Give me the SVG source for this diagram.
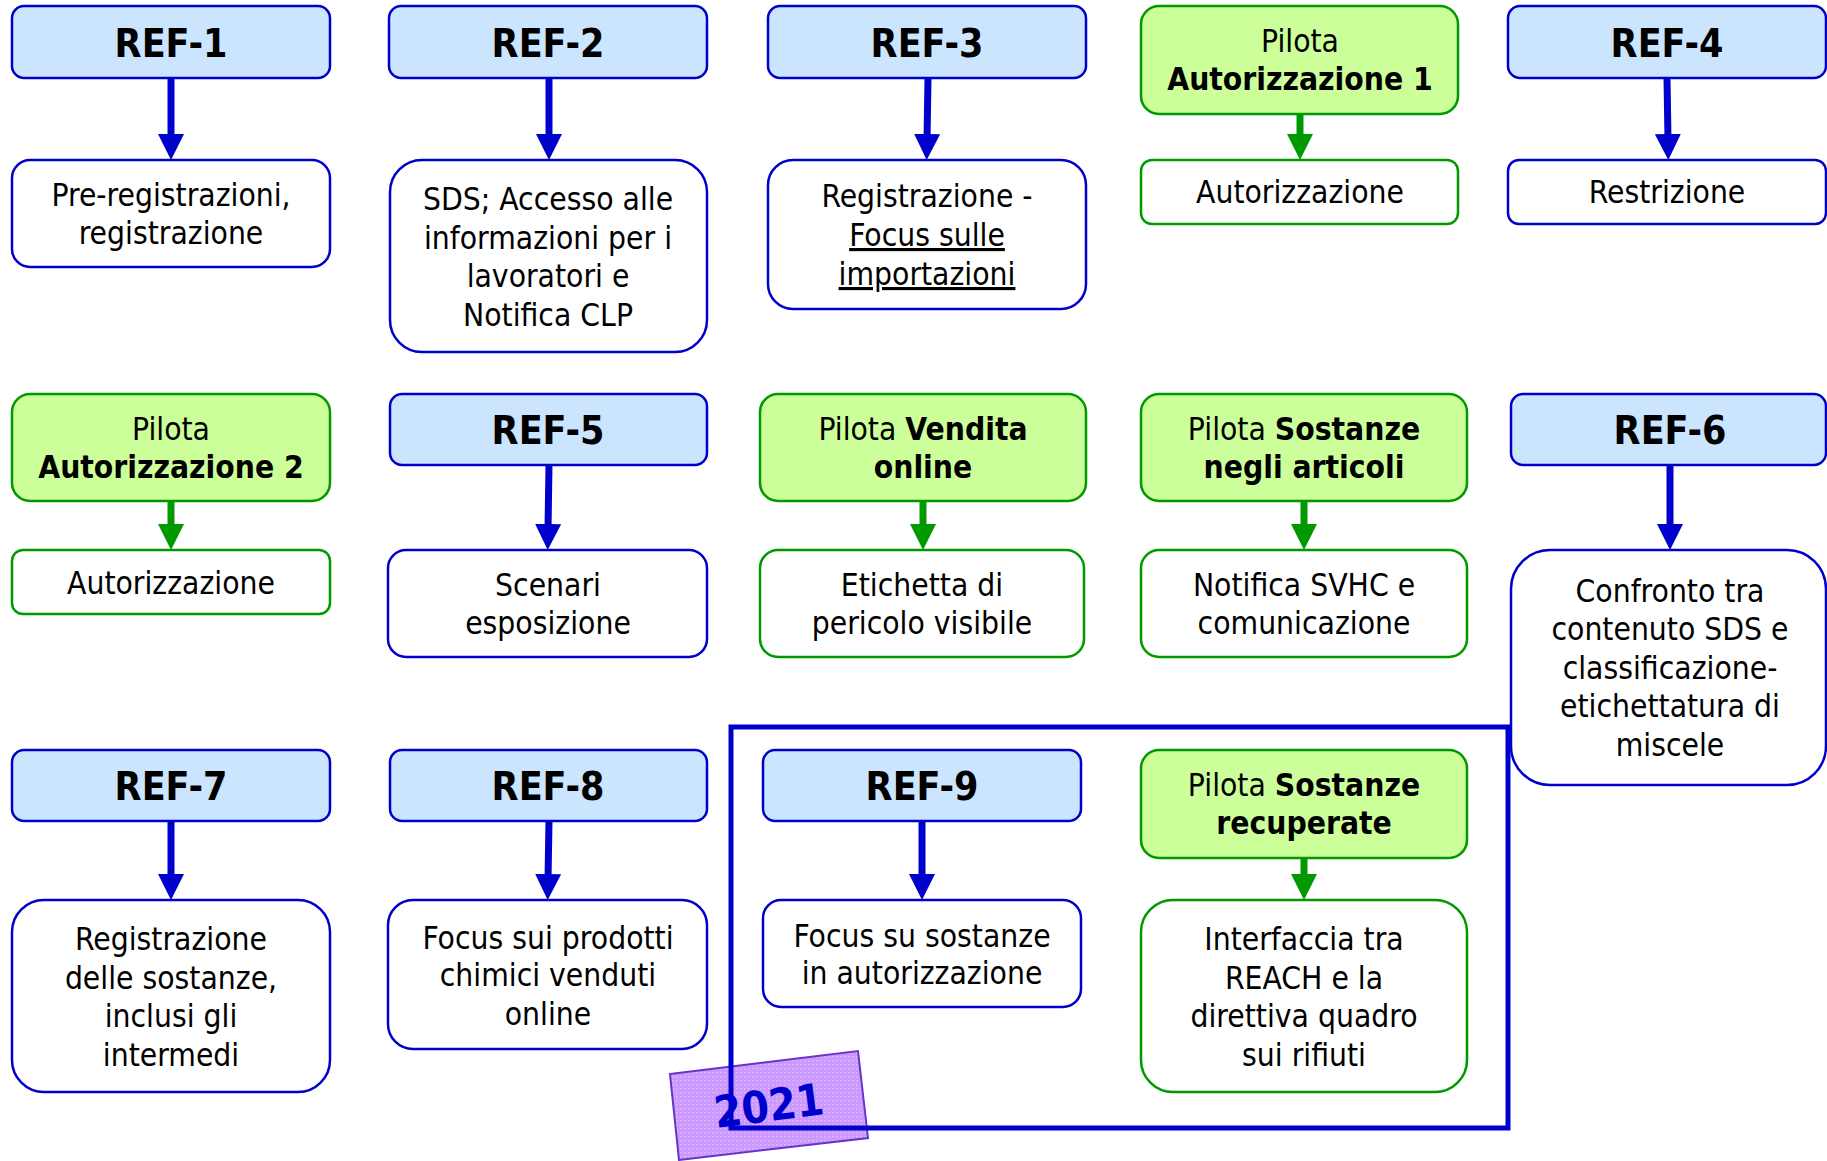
<svg xmlns="http://www.w3.org/2000/svg" width="1827" height="1161" viewBox="0 0 1827 1161">
<defs>
<style>
.hb{fill:#cce5ff;stroke:#0000cc;stroke-width:2.5}
.hg{fill:#ccff99;stroke:#009900;stroke-width:2.5}
.cb{fill:#ffffff;stroke:#0000cc;stroke-width:2.5}
.cg{fill:#ffffff;stroke:#009900;stroke-width:2.5}
text{font-family:"DejaVu Sans Condensed","DejaVu Sans",sans-serif;text-anchor:middle;fill:#000}
.ref{font-size:39px;font-weight:bold}
.t{font-size:31.5px}
.b{font-weight:bold}
.u{text-decoration:underline}
.ab{stroke:#0000cc;stroke-width:7;fill:none;marker-end:url(#mb)}
.ag{stroke:#009900;stroke-width:7;fill:none;marker-end:url(#mg)}
</style>
<marker id="mb" markerUnits="userSpaceOnUse" markerWidth="26" markerHeight="26" refX="6" refY="13" orient="auto">
<path d="M0,0 L26,13 L0,26 z" fill="#0000cc"/>
</marker>
<marker id="mg" markerUnits="userSpaceOnUse" markerWidth="26" markerHeight="26" refX="6" refY="13" orient="auto">
<path d="M0,0 L26,13 L0,26 z" fill="#009900"/>
</marker>
<pattern id="dots" width="4" height="4" patternUnits="userSpaceOnUse">
<rect width="4" height="4" fill="#cc99ff"/>
<rect x="0" y="0" width="1.5" height="1.5" fill="#ddbbff"/>
</pattern>
</defs>
<rect width="1827" height="1161" fill="#ffffff"/>

<g id="connectors">
<line class="ab" x1="171" y1="78" x2="171" y2="140"/>
<line class="ab" x1="549" y1="78" x2="549" y2="140"/>
<line class="ab" x1="928" y1="78" x2="927" y2="140"/>
<line class="ag" x1="1300" y1="114" x2="1300" y2="140"/>
<line class="ab" x1="1667" y1="78" x2="1668" y2="140"/>
<line class="ag" x1="171" y1="501" x2="171" y2="530"/>
<line class="ab" x1="549" y1="465" x2="548" y2="530"/>
<line class="ag" x1="923" y1="501" x2="923" y2="530"/>
<line class="ag" x1="1304" y1="501" x2="1304" y2="530"/>
<line class="ab" x1="1670" y1="465" x2="1670" y2="530"/>
<line class="ab" x1="171" y1="821" x2="171" y2="880"/>
<line class="ab" x1="549" y1="821" x2="548" y2="880"/>
<line class="ab" x1="922" y1="821" x2="922" y2="880"/>
<line class="ag" x1="1304" y1="858" x2="1304" y2="880"/>
</g>

<g id="ref1"><rect class="hb" x="12" y="6" width="318" height="72" rx="12"/><text class="ref" x="171" y="57">REF-1</text></g>
<g id="ref1-c"><rect class="cb" x="12" y="160" width="318" height="107" rx="18"/><text class="t" x="171" y="206">Pre-registrazioni,</text><text class="t" x="171" y="244">registrazione</text></g>

<g id="ref2"><rect class="hb" x="389" y="6" width="318" height="72" rx="12"/><text class="ref" x="548" y="57">REF-2</text></g>
<g id="ref2-c"><rect class="cb" x="390" y="160" width="317" height="192" rx="32"/><text class="t" x="548" y="210">SDS; Accesso alle</text><text class="t" x="548" y="249">informazioni per i</text><text class="t" x="548" y="287">lavoratori e</text><text class="t" x="548" y="326">Notifica CLP</text></g>

<g id="ref3"><rect class="hb" x="768" y="6" width="318" height="72" rx="12"/><text class="ref" x="927" y="57">REF-3</text></g>
<g id="ref3-c"><rect class="cb" x="768" y="160" width="318" height="149" rx="25"/><text class="t" x="927" y="207">Registrazione -</text><text class="t u" x="927" y="246">Focus sulle</text><text class="t u" x="927" y="285">importazioni</text></g>

<g id="pilota1"><rect class="hg" x="1141" y="6" width="317" height="108" rx="18"/><text class="t" x="1300" y="52">Pilota</text><text class="t b" x="1300" y="90">Autorizzazione 1</text></g>
<g id="pilota1-c"><rect class="cg" x="1141" y="160" width="317" height="64" rx="11"/><text class="t" x="1300" y="203">Autorizzazione</text></g>

<g id="ref4"><rect class="hb" x="1508" y="6" width="318" height="72" rx="12"/><text class="ref" x="1667" y="57">REF-4</text></g>
<g id="ref4-c"><rect class="cb" x="1508" y="160" width="318" height="64" rx="11"/><text class="t" x="1667" y="203">Restrizione</text></g>

<g id="pilota2"><rect class="hg" x="12" y="394" width="318" height="107" rx="18"/><text class="t" x="171" y="440">Pilota</text><text class="t b" x="171" y="478">Autorizzazione 2</text></g>
<g id="pilota2-c"><rect class="cg" x="12" y="550" width="318" height="64" rx="11"/><text class="t" x="171" y="594">Autorizzazione</text></g>

<g id="ref5"><rect class="hb" x="390" y="394" width="317" height="71" rx="12"/><text class="ref" x="548" y="444">REF-5</text></g>
<g id="ref5-c"><rect class="cb" x="388" y="550" width="319" height="107" rx="18"/><text class="t" x="548" y="596">Scenari</text><text class="t" x="548" y="634">esposizione</text></g>

<g id="pilota-vendita"><rect class="hg" x="760" y="394" width="326" height="107" rx="18"/><text class="t" x="923" y="440">Pilota <tspan class="b">Vendita</tspan></text><text class="t b" x="923" y="478">online</text></g>
<g id="pilota-vendita-c"><rect class="cg" x="760" y="550" width="324" height="107" rx="18"/><text class="t" x="922" y="596">Etichetta di</text><text class="t" x="922" y="634">pericolo visibile</text></g>

<g id="pilota-articoli"><rect class="hg" x="1141" y="394" width="326" height="107" rx="18"/><text class="t" x="1304" y="440">Pilota <tspan class="b">Sostanze</tspan></text><text class="t b" x="1304" y="478">negli articoli</text></g>
<g id="pilota-articoli-c"><rect class="cg" x="1141" y="550" width="326" height="107" rx="18"/><text class="t" x="1304" y="596">Notifica SVHC e</text><text class="t" x="1304" y="634">comunicazione</text></g>

<g id="ref6"><rect class="hb" x="1511" y="394" width="315" height="71" rx="12"/><text class="ref" x="1670" y="444">REF-6</text></g>
<g id="ref6-c"><rect class="cb" x="1511" y="550" width="315" height="235" rx="39"/><text class="t" x="1670" y="602">Confronto tra</text><text class="t" x="1670" y="640">contenuto SDS e</text><text class="t" x="1670" y="679">classificazione-</text><text class="t" x="1670" y="717">etichettatura di</text><text class="t" x="1670" y="756">miscele</text></g>

<g id="ref7"><rect class="hb" x="12" y="750" width="318" height="71" rx="12"/><text class="ref" x="171" y="800">REF-7</text></g>
<g id="ref7-c"><rect class="cb" x="12" y="900" width="318" height="192" rx="32"/><text class="t" x="171" y="950">Registrazione</text><text class="t" x="171" y="989">delle sostanze,</text><text class="t" x="171" y="1027">inclusi gli</text><text class="t" x="171" y="1066">intermedi</text></g>

<g id="ref8"><rect class="hb" x="390" y="750" width="317" height="71" rx="12"/><text class="ref" x="548" y="800">REF-8</text></g>
<g id="ref8-c"><rect class="cb" x="388" y="900" width="319" height="149" rx="25"/><text class="t" x="548" y="949">Focus sui prodotti</text><text class="t" x="548" y="986">chimici venduti</text><text class="t" x="548" y="1025">online</text></g>

<g id="sticker"><polygon points="670,1074 858,1051 868,1138 679,1160" fill="url(#dots)" stroke="#6633cc" stroke-width="2"/></g>

<g id="frame-2021"><rect x="731" y="727" width="777" height="401" fill="none" stroke="#0000cc" stroke-width="5"/></g>

<g id="ref9"><rect class="hb" x="763" y="750" width="318" height="71" rx="12"/><text class="ref" x="922" y="800">REF-9</text></g>
<g id="ref9-c"><rect class="cb" x="763" y="900" width="318" height="107" rx="18"/><text class="t" x="922" y="947">Focus su sostanze</text><text class="t" x="922" y="984">in autorizzazione</text></g>

<g id="pilota-recuperate"><rect class="hg" x="1141" y="750" width="326" height="108" rx="18"/><text class="t" x="1304" y="796">Pilota <tspan class="b">Sostanze</tspan></text><text class="t b" x="1304" y="834">recuperate</text></g>
<g id="pilota-recuperate-c"><rect class="cg" x="1141" y="900" width="326" height="192" rx="32"/><text class="t" x="1304" y="950">Interfaccia tra</text><text class="t" x="1304" y="989">REACH e la</text><text class="t" x="1304" y="1027">direttiva quadro</text><text class="t" x="1304" y="1066">sui rifiuti</text></g>

<g id="label-2021"><text x="769" y="1121" transform="rotate(-7.3 769 1107)" style="font-size:44px;font-weight:bold;fill:#0000cc">2021</text></g>
</svg>
